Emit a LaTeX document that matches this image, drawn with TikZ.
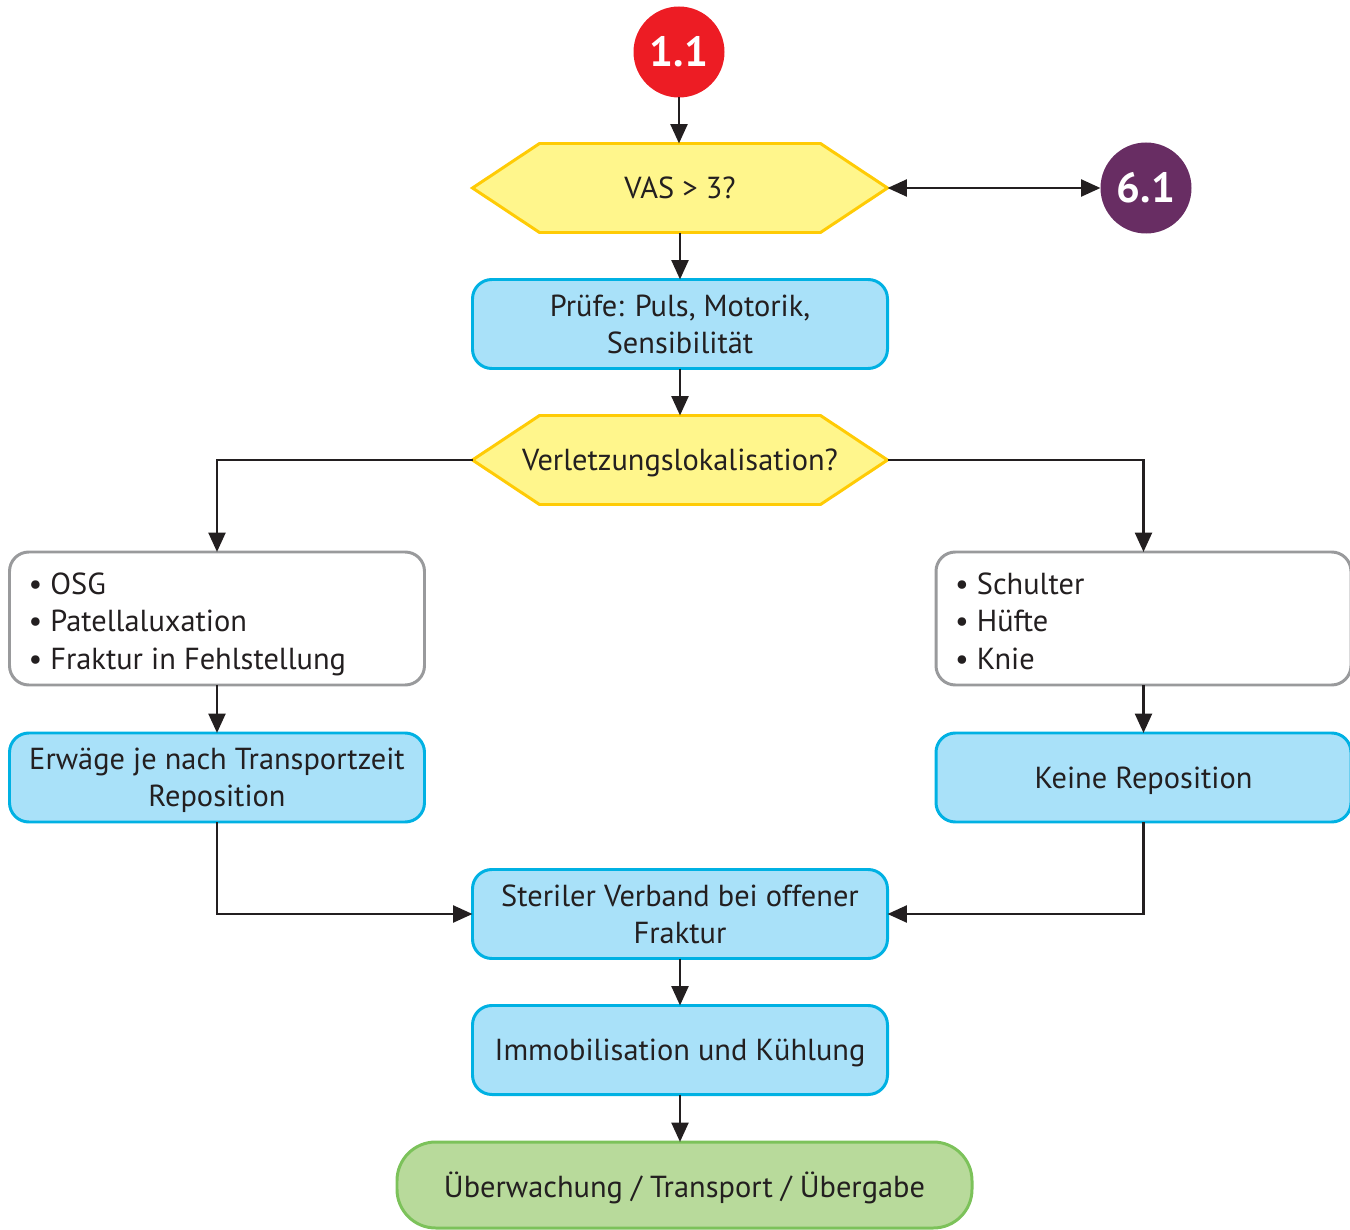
\documentclass[tikz,border=0pt]{standalone}
\usepackage{fontspec}
\setmainfont{PT Sans}
\usetikzlibrary{arrows.meta,backgrounds}

\newlength\pxl
\setlength\pxl{0.02cm}

\definecolor{inkc}{HTML}{231F20}
\definecolor{redc}{HTML}{ED1C24}
\definecolor{purplec}{HTML}{682D63}
\definecolor{yelfill}{HTML}{FFF68C}
\definecolor{yeldraw}{HTML}{FFCB05}
\definecolor{bluefill}{HTML}{A9E1F9}
\definecolor{bluedraw}{HTML}{00B1E3}
\definecolor{grayd}{HTML}{999A9C}
\definecolor{greenfill}{HTML}{B8DA9B}
\definecolor{greend}{HTML}{7CC25A}

\tikzset{
  txt/.style={text=inkc, font=\fontsize{17.3}{21.3}\selectfont, outer sep=0pt,
    text depth=-4\pxl},
  badge/.style={circle, minimum size=91\pxl, inner sep=0pt, text=white,
    font=\fontsize{24}{26}\selectfont\bfseries, outer sep=0pt},
  hexnode/.style={txt, minimum width=415\pxl, minimum height=89\pxl, inner sep=0pt},
  hexshape/.style={fill=yelfill, draw=yeldraw, line width=1.7pt, line join=miter},
  bluebox/.style={txt, rectangle, rounded corners=11pt, fill=bluefill, draw=bluedraw,
    line width=1.7pt, minimum width=415\pxl, minimum height=89\pxl, align=center},
  listbox/.style={txt, text depth=39.8pt, rectangle, rounded corners=11pt, fill=white,
    draw=grayd, line width=1.7pt, minimum width=415\pxl, minimum height=133\pxl,
    text width=377\pxl, inner xsep=19\pxl, inner ysep=0pt, align=flush left},
  endbox/.style={txt, rectangle, rounded corners=22pt, fill=greenfill, draw=greend,
    line width=1.7pt, minimum width=575\pxl, minimum height=86\pxl},
  arr/.style={draw=inkc, line width=1.7pt, -{Triangle[length=11pt,width=9.5pt]}},
  dblarr/.style={draw=inkc, line width=1.7pt,
    {Triangle[length=11pt,width=9.5pt]}-{Triangle[length=11pt,width=9.5pt]}}
}

\newcommand\hexfill[1]{%
  \begin{scope}[on background layer]
    \filldraw[hexshape] (#1.west) -- ([xshift=67\pxl]#1.north west)
      -- ([xshift=-67\pxl]#1.north east) -- (#1.east)
      -- ([xshift=-67\pxl]#1.south east) -- ([xshift=67\pxl]#1.south west) -- cycle;
  \end{scope}}

\begin{document}
\begin{tikzpicture}[x=0.02cm, y=-0.02cm]
\useasboundingbox (0,0) rectangle (1350,1230);

% entry and side references
\node[badge, fill=redc] (n11) at (679,52) {1.1};
\node[badge, fill=purplec] (n61) at (1146,188) {6.1};

% decisions
\node[hexnode] (vas) at (680,188) {VAS > 3?};
\hexfill{vas}
\node[bluebox] (pruef) at (680,324) {Prüfe: Puls, Motorik,\\Sensibilität};
\node[hexnode] (loc) at (680,460) {Verletzungslokalisation?};
\hexfill{loc}

% branches
\node[listbox] (lefts) at (217,618.5) {• OSG\\• Patellaluxation\\• Fraktur in Fehlstellung};
\node[listbox] (rights) at (1143.5,618.5) {• Schulter\\• Hüfte\\• Knie};
\node[bluebox] (lrep) at (217,777.5) {Erwäge je nach Transportzeit\\Reposition};
\node[bluebox] (rrep) at (1143.5,777.5) {Keine Reposition};

% common path
\node[bluebox] (ster) at (680,914) {Steriler Verband bei offener\\Fraktur};
\node[bluebox] (immo) at (680,1050) {Immobilisation und Kühlung};
\node[endbox] (ende) at (684.5,1185) {Überwachung / Transport / Übergabe};

% connectors
\draw[arr] (n11.south) -- (n11.south |- vas.north);
\draw[dblarr] (vas.east) -- (n61.west);
\draw[arr] (vas.south) -- (pruef.north);
\draw[arr] (pruef.south) -- (loc.north);
\draw[arr] (loc.west) -| (lefts.north);
\draw[arr] (loc.east) -| (rights.north);
\draw[arr] (lefts.south) -- (lrep.north);
\draw[arr] (rights.south) -- (rrep.north);
\draw[arr] (lrep.south) |- (ster.west);
\draw[arr] (rrep.south) |- (ster.east);
\draw[arr] (ster.south) -- (immo.north);
\draw[arr] (immo.south) -- (immo.south |- ende.north);
\end{tikzpicture}
\end{document}
